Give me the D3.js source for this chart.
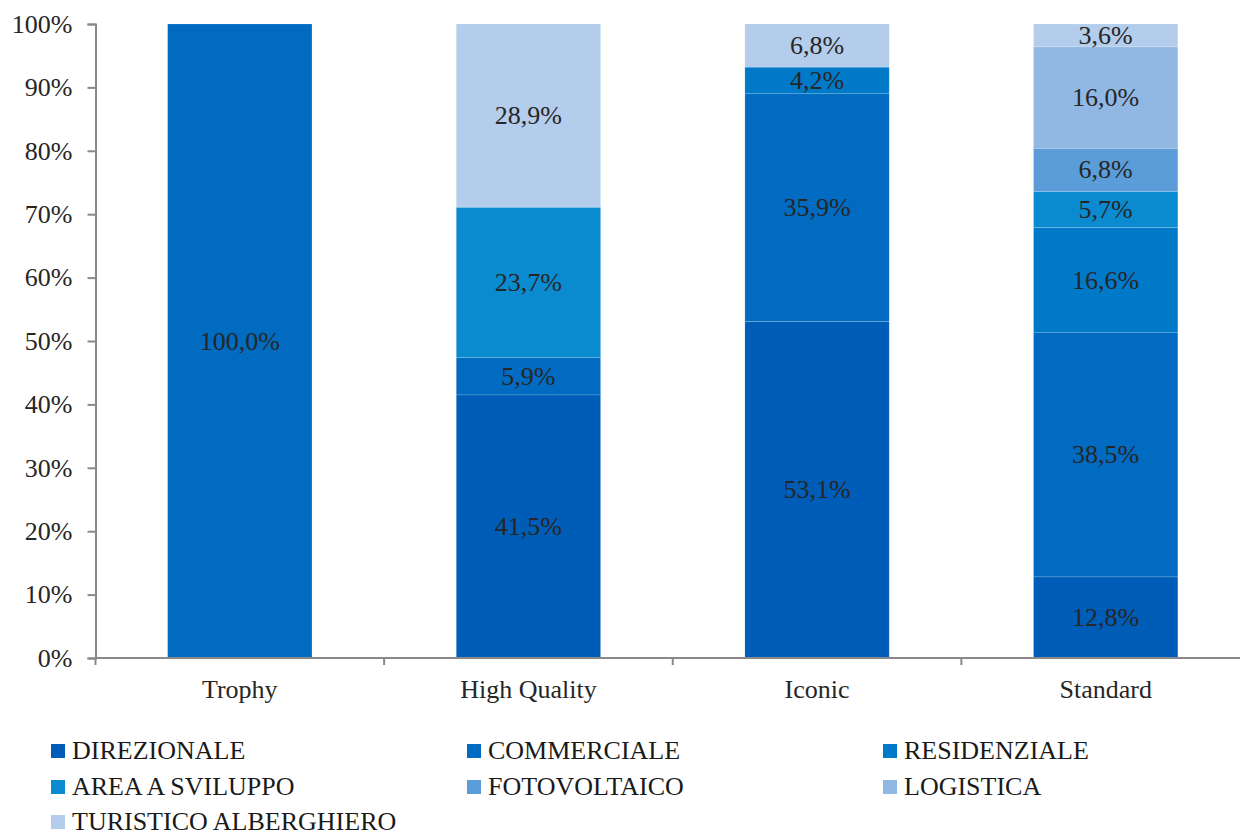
<!DOCTYPE html>
<html><head><meta charset="utf-8">
<script src="https://cdn.jsdelivr.net/npm/d3@7"></script>
<style>body{margin:0;background:#fff}svg{display:block}</style>
</head><body>
<svg id="c" width="1240" height="831"></svg>
<script>
const categories = ["Trophy", "High Quality", "Iconic", "Standard"];
const seriesNames = ["DIREZIONALE", "COMMERCIALE", "RESIDENZIALE", "AREA A SVILUPPO", "FOTOVOLTAICO", "LOGISTICA", "TURISTICO ALBERGHIERO"];
const direzionale = [0, 41.5, 53.1, 12.8];
const commerciale = [100.0, 5.9, 35.9, 38.5];
const residenziale = [0, 0, 4.2, 16.6];
const areaSviluppo = [0, 23.7, 0, 5.7];
const fotovoltaico = [0, 0, 0, 6.8];
const logistica = [0, 0, 0, 16.0];
const turistico = [0, 28.9, 6.8, 3.6];
const yTicks = [0, 10, 20, 30, 40, 50, 60, 70, 80, 90, 100];
const colors = ["#005db7", "#006bc0", "#0079c8", "#0a8acf", "#5a9dd8", "#91b8e3", "#b4cdec"];

const seriesValues = [direzionale, commerciale, residenziale, areaSviluppo, fotovoltaico, logistica, turistico];
const rows = categories.map((c, i) => {
  const r = {cat: c};
  seriesNames.forEach((s, j) => r[s] = seriesValues[j][i]);
  return r;
});
const stacked = d3.stack().keys(seriesNames)(rows);

const svg = d3.select("#c");
const font = "'Liberation Serif', 'Times New Roman', serif";
const FS = 26;
const x = d3.scaleBand().domain(categories).range([95.5, 1250]).paddingInner(0.5).paddingOuter(0.25);
const y = d3.scaleLinear().domain([0, 100]).range([658, 24]);

// bars
stacked.forEach((layer, j) => {
  svg.append("g").selectAll("rect").data(layer.filter(d => d[1] - d[0] > 0)).join("rect")
    .attr("x", d => x(d.data.cat))
    .attr("width", x.bandwidth())
    .attr("y", d => y(d[1]))
    .attr("height", d => y(d[0]) - y(d[1]))
    .attr("fill", colors[j])
    .attr("stroke", "rgba(255,255,255,0.25)")
    .attr("stroke-width", 0.6);
  svg.append("g").selectAll("text").data(layer.filter(d => d[1] - d[0] > 0)).join("text")
    .attr("x", d => x(d.data.cat) + x.bandwidth() / 2)
    .attr("y", d => y((d[0] + d[1]) / 2))
    .attr("dy", "0.33em")
    .attr("text-anchor", "middle")
    .attr("font-family", font).attr("font-size", FS).attr("fill", "#262626")
    .text(d => d3.format(".1f")(d[1] - d[0]).replace(".", ",") + "%");
});

// y axis
const ya = svg.append("g").attr("transform", "translate(95.5,0)")
  .call(d3.axisLeft(y).tickValues(yTicks).tickFormat(d => d + "%").tickSize(8).tickPadding(15));
ya.select(".domain").attr("stroke", "#898989").attr("stroke-width", 2);
ya.selectAll(".tick line").attr("stroke", "#898989").attr("stroke-width", 2);
ya.selectAll(".tick text").attr("font-family", font).attr("font-size", FS).attr("fill", "#262626");

// x axis
const bounds = d3.range(categories.length + 1).map(i => 95.5 + i * x.step());
const xa = svg.append("g");
xa.append("line").attr("x1", 95.5).attr("x2", 1240).attr("y1", 658).attr("y2", 658)
  .attr("stroke", "#898989").attr("stroke-width", 2);
xa.selectAll("line.t").data(bounds).join("line").attr("class", "t")
  .attr("x1", d => d).attr("x2", d => d).attr("y1", 658).attr("y2", 665)
  .attr("stroke", "#898989").attr("stroke-width", 2);
xa.selectAll("text").data(categories).join("text")
  .attr("x", d => x(d) + x.bandwidth() / 2).attr("y", 698)
  .attr("text-anchor", "middle").attr("font-family", font).attr("font-size", FS).attr("fill", "#262626")
  .text(d => d);

// legend
const colX = [51, 467, 883];
const rowBase = [759, 795, 830];
const lg = svg.append("g");
seriesNames.forEach((s, i) => {
  const cx = colX[i % 3], by = rowBase[Math.floor(i / 3)];
  lg.append("rect").attr("x", cx).attr("y", by - 15).attr("width", 14).attr("height", 14).attr("fill", colors[i]);
  lg.append("text").attr("x", cx + 21).attr("y", by)
    .attr("font-family", font).attr("font-size", FS).attr("fill", "#1a1a1a")
    .text(s);
});
</script>
</body></html>
